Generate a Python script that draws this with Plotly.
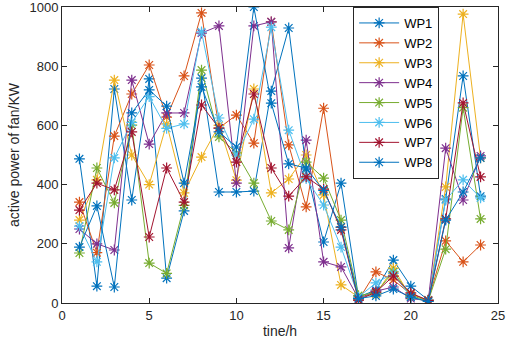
import plotly.graph_objects as go

hours = list(range(1, 25))
series_names = ["WP1", "WP2", "WP3", "WP4", "WP5", "WP6", "WP7", "WP8"]

wp1 = [487, 57, 723, 348, 757, 84, 311, 760, 375, 375, 378, 716, 929, 452, 206, 405, 20, 44, 145, 57, 10, 351, 767, 361]
wp2 = [341, 170, 564, 706, 804, 628, 767, 980, 591, 635, 540, 950, 534, 325, 658, 255, 10, 105, 78, 30, 10, 210, 139, 196]
wp3 = [280, 416, 753, 500, 400, 605, 372, 493, 600, 415, 723, 372, 419, 500, 365, 61, 20, 30, 118, 20, 5, 392, 976, 490]
wp4 = [250, 200, 179, 753, 537, 642, 642, 912, 936, 405, 936, 950, 186, 550, 139, 122, 15, 40, 54, 15, 8, 523, 348, 497]
wp5 = [169, 456, 338, 601, 135, 100, 330, 787, 561, 507, 405, 277, 247, 476, 422, 280, 25, 35, 105, 25, 8, 182, 660, 284]
wp6 = [260, 139, 490, 610, 697, 590, 605, 916, 625, 500, 621, 932, 584, 420, 331, 189, 20, 68, 100, 20, 5, 348, 416, 355]
wp7 = [314, 405, 382, 578, 223, 456, 341, 669, 591, 476, 706, 456, 361, 426, 385, 247, 10, 37, 91, 34, 8, 284, 676, 426]
wp8 = [189, 328, 54, 642, 720, 665, 405, 730, 578, 527, 1000, 675, 470, 456, 380, 257, 15, 24, 47, 20, 5, 280, 375, 490]

all_values = [wp1, wp2, wp3, wp4, wp5, wp6, wp7, wp8]
colors = ["#0072BD", "#D95319", "#EDB120", "#7E2F8E", "#77AC30", "#4DBEEE", "#A2142F", "#0072BD"]

x_ticks = [0, 5, 10, 15, 20, 25]
y_ticks = [0, 200, 400, 600, 800, 1000]

fig = go.Figure()
for name, vals, c in zip(series_names, all_values, colors):
    fig.add_trace(go.Scatter(
        x=hours, y=vals, name=name, mode="lines+markers",
        line=dict(color=c, width=1),
        marker=dict(symbol="asterisk-open", size=9, color=c, line=dict(color=c, width=1.2)),
    ))

axis_common = dict(
    showgrid=False, zeroline=False, showline=True, linecolor="#262626", linewidth=1,
    mirror="ticks", ticks="inside", ticklen=5, tickcolor="#262626", automargin=False,
    ticklabeloverflow="allow",
    tickfont=dict(family="Liberation Sans, Arial", size=13, color="#262626"),
)

fig.update_layout(
    width=512, height=348,
    margin=dict(l=62, r=14, t=7, b=45, autoexpand=False),
    paper_bgcolor="white", plot_bgcolor="white",
    xaxis=dict(range=[0, 25], tickvals=x_ticks,
               title=dict(text="tine/h", font=dict(family="Liberation Sans, Arial", size=14, color="#262626"), standoff=4),
               **axis_common),
    yaxis=dict(range=[0, 1000], tickvals=y_ticks,
               title=dict(text="active power of fan/KW", font=dict(family="Liberation Sans, Arial", size=14, color="#262626"), standoff=6),
               **axis_common),
    legend=dict(x=0.865, y=1.0, xanchor="right", yanchor="top",
                bgcolor="white", bordercolor="#262626", borderwidth=1,
                font=dict(family="Liberation Sans, Arial", size=13, color="#000000"),
                tracegroupgap=0, itemwidth=40),
    showlegend=True,
)

fig.write_html("out.html", config={"displayModeBar": False},
               post_script="document.body.style.margin='0px';")
